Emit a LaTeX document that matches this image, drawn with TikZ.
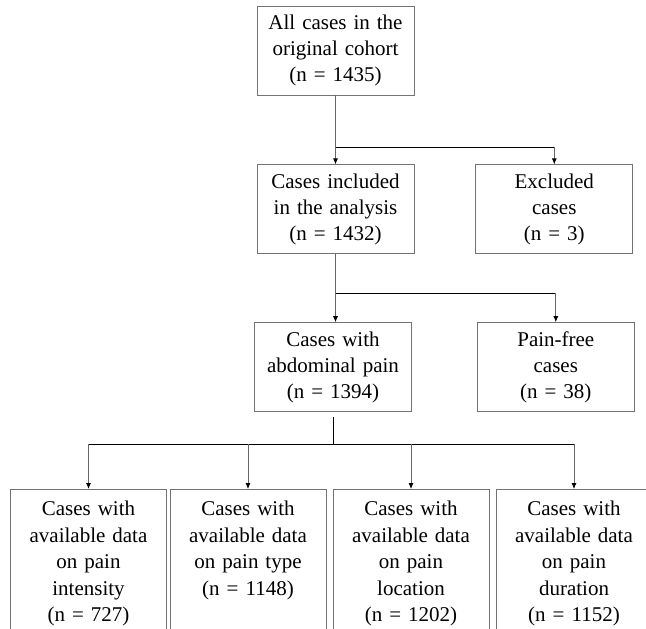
\documentclass[tikz,border=0pt]{standalone}
\usepackage{fontspec}
\setmainfont{Liberation Serif}
\usetikzlibrary{positioning,arrows.meta}

\begin{document}
\begin{tikzpicture}[x=1pt,y=-1pt,
	stagebox/.style={ % upper boxes of the flow
		draw=black!55, line width=0.8pt,
		minimum width=157pt, minimum height=89pt,
		text width=152pt, inner xsep=2pt, align=center,
		font=\fontsize{21}{26}\selectfont
	},
	databox/.style={ % lower boxes, open at the bottom
		draw=black!55, line width=0.8pt, anchor=north,
		minimum width=156pt, text width=152pt, inner xsep=2pt,
		inner ysep=11pt, text height=15pt, text depth=150pt,
		align=center, font=\fontsize{21}{26.6}\selectfont
	},
	feed/.style={draw=black!60, line width=0.8pt},
	split/.style={draw=black, line width=0.8pt},
	drop/.style={-{Latex[length=6pt,width=5pt,color=black]}}
]
	\clip (0,0) rectangle (646,629);
	%% stages
	\node[stagebox] (all) at (335.5,50.5) {All cases in the\\original cohort\\(n = 1435)};
	\node[stagebox, below=69pt of all] (incl) {Cases included\\in the analysis\\(n = 1432)};
	\node[stagebox, right=61pt of incl] (excl) {Excluded\\cases\\(n = 3)};
	\node[stagebox, below=68pt of incl, xshift=-2.5pt] (pain) {Cases with\\abdominal pain\\(n = 1394)};
	\node[stagebox, right=65pt of pain] (free) {Pain-free\\cases\\(n = 38)};
	%% data boxes
	\node[databox] (int) at (88.5,489) {Cases with\\available data\\on pain\\intensity\\(n = 727)};
	\node[databox] (typ) at (248,489) {Cases with\\available data\\on pain type\\(n = 1148)};
	\node[databox] (loc) at (411,489) {Cases with\\available data\\on pain\\location\\(n = 1202)};
	\node[databox] (dur) at (574,489) {Cases with\\available data\\on pain\\duration\\(n = 1152)};
	% first split
	\coordinate (fork1) at ([yshift=-52pt]all.south);
	\draw[feed] (all) -- (fork1);
	\draw[feed, drop] (fork1) -- (incl);
	\draw[split] (fork1) -- (fork1 -| excl);
	\draw[feed, drop] (fork1 -| excl) -- (excl);
	% second split
	\coordinate (fork2) at ([yshift=-39pt]incl.south);
	\draw[feed] (incl) -- (fork2);
	\draw[split] (fork2) -- (fork2 -| free);
	\draw[feed, drop] (fork2) -- (fork2 |- pain.north);
	\draw[feed, drop] (fork2 -| free) -- (free);
	% third split
	\coordinate (stem) at ([yshift=-5pt]pain.south);
	\coordinate (fork3) at ([yshift=-32pt]pain.south);
	\draw[split] (stem) -- (fork3);
	\draw[split] (fork3 -| int) -- (fork3 -| dur);
	\draw[feed, drop] (fork3 -| int) -- (int.north);
	\draw[feed, drop] (fork3 -| typ) -- (typ.north);
	\draw[feed, drop] (fork3 -| loc) -- (loc.north);
	\draw[feed, drop] (fork3 -| dur) -- (dur.north);
\end{tikzpicture}
\end{document}
